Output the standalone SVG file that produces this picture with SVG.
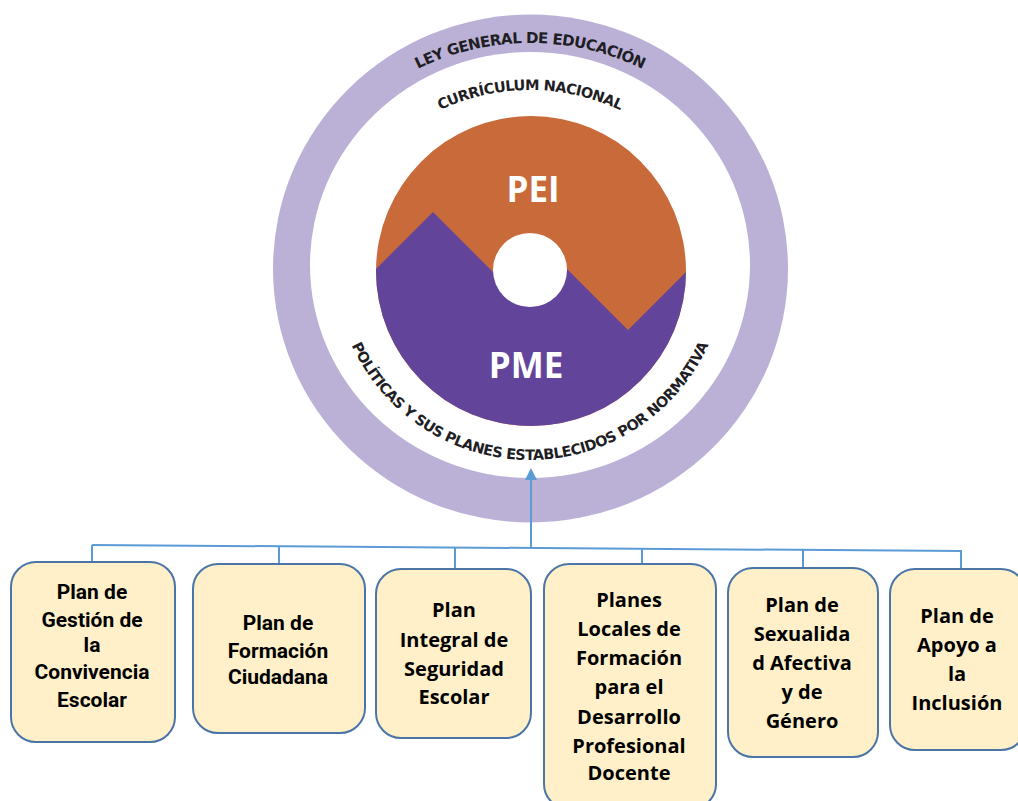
<svg xmlns="http://www.w3.org/2000/svg" width="1018" height="801" viewBox="0 0 1018 801">
<style>
.arc{font-family:"DejaVu Sans",sans-serif;font-weight:bold;fill:#1e1e24}
.big{font-family:"Open Sans",sans-serif;font-weight:bold;fill:#ffffff;font-size:35px;text-anchor:middle}
.box{fill:#FFF0C9;stroke:#4A75A6;stroke-width:2}
.t1{font-family:Roboto,sans-serif;font-weight:bold;font-size:21px;fill:#000;text-anchor:middle}
.t2{font-family:"Open Sans",sans-serif;font-weight:bold;font-size:20px;fill:#000;text-anchor:middle}
.con{fill:none;stroke:#5B9BD5;stroke-width:2}
</style>
<defs>
<clipPath id="diskClip"><circle cx="531" cy="271" r="155"/></clipPath>
<path id="pTop" d="M 273,300 A 257,257 0 0 1 787,300"/>
<path id="pCur" d="M 320,300 A 210,210 0 0 1 740,300"/>
<path id="pBot" d="M 334,264 A 196,196 0 0 0 726,264"/>
<marker id="arr" markerWidth="12" markerHeight="12" refX="10" refY="6" orient="auto" markerUnits="userSpaceOnUse">
<path d="M0,0 L12,6 L0,12 Z" fill="#5B9BD5"/>
</marker>
</defs>
<g id="ring">
<ellipse cx="530.5" cy="268.5" rx="257.5" ry="254" fill="#BBB1D6"/>
<ellipse cx="530" cy="265" rx="220" ry="213" fill="#ffffff"/>
<text class="arc" font-size="15" letter-spacing="-0.6"><textPath href="#pTop" startOffset="50%" text-anchor="middle">LEY GENERAL DE EDUCACIÓN</textPath></text>
<text class="arc" font-size="14.5" letter-spacing="-0.6"><textPath href="#pCur" startOffset="50%" text-anchor="middle">CURRÍCULUM NACIONAL</textPath></text>
<text class="arc" font-size="14.5" letter-spacing="-0.55"><textPath href="#pBot" startOffset="50%" text-anchor="middle">POLÍTICAS Y SUS PLANES ESTABLECIDOS POR NORMATIVA</textPath></text>
</g>
<g id="disk">
<circle cx="531" cy="271" r="155" fill="#C86A39"/>
<polygon clip-path="url(#diskClip)" points="330,315 433,212 510,289 550,252 628,330 720,238 720,450 330,450" fill="#63449B"/>
<circle cx="530" cy="270" r="37" fill="#ffffff"/>
<text class="big" x="533" y="202">PEI</text>
<text class="big" x="526" y="378">PME</text>
</g>
<g id="connectors">
<polyline class="con" points="92,545 962,551"/>
<line class="con" x1="92" y1="545" x2="92" y2="562"/>
<line class="con" x1="279" y1="546.3" x2="279" y2="564"/>
<line class="con" x1="455" y1="547.5" x2="455" y2="569"/>
<line class="con" x1="642" y1="548.8" x2="642" y2="564"/>
<line class="con" x1="803" y1="549.9" x2="803" y2="568"/>
<line class="con" x1="961" y1="551" x2="961" y2="569"/>
<line class="con" x1="531" y1="548" x2="531" y2="470" marker-end="url(#arr)"/>
</g>
<g id="box1">
<rect class="box" x="11" y="562" width="164" height="180" rx="25"/>
<text class="t1"><tspan x="92" y="599">Plan de</tspan><tspan x="92" y="627">Gestión de</tspan><tspan x="92" y="652">la</tspan><tspan x="92" y="679">Convivencia</tspan><tspan x="92" y="707">Escolar</tspan></text>
</g>
<g id="box2">
<rect class="box" x="193" y="564" width="172" height="169" rx="25"/>
<text class="t1"><tspan x="278" y="630">Plan de</tspan><tspan x="278" y="658">Formación</tspan><tspan x="278" y="684">Ciudadana</tspan></text>
</g>
<g id="box3">
<rect class="box" x="376" y="569" width="155" height="169" rx="25"/>
<text class="t2"><tspan x="454" y="617">Plan</tspan><tspan x="454" y="647">Integral de</tspan><tspan x="454" y="676">Seguridad</tspan><tspan x="454" y="704">Escolar</tspan></text>
</g>
<g id="box4">
<rect class="box" x="544" y="564" width="172" height="245" rx="25"/>
<text class="t2"><tspan x="629" y="607">Planes</tspan><tspan x="629" y="636">Locales de</tspan><tspan x="629" y="665">Formación</tspan><tspan x="629" y="694">para el</tspan><tspan x="629" y="724">Desarrollo</tspan><tspan x="629" y="753">Profesional</tspan><tspan x="629" y="780">Docente</tspan></text>
</g>
<g id="box5">
<rect class="box" x="728" y="568" width="150" height="189" rx="25"/>
<text class="t2"><tspan x="802" y="612">Plan de</tspan><tspan x="802" y="641">Sexualida</tspan><tspan x="802" y="670">d Afectiva</tspan><tspan x="802" y="699">y de</tspan><tspan x="802" y="728">Género</tspan></text>
</g>
<g id="box6">
<rect class="box" x="890" y="569" width="136" height="181" rx="25"/>
<text class="t2"><tspan x="957" y="623">Plan de</tspan><tspan x="957" y="652">Apoyo a</tspan><tspan x="957" y="681">la</tspan><tspan x="957" y="710">Inclusión</tspan></text>
</g>
</svg>
